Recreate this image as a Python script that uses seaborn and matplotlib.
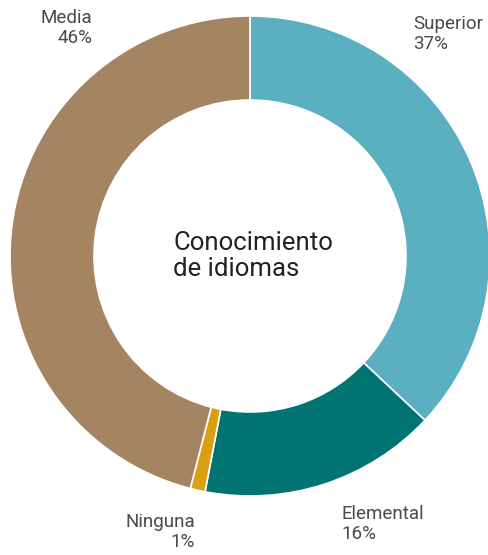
import matplotlib
matplotlib.use("Agg")
import matplotlib.pyplot as plt
import seaborn as sns

# Datos: conocimiento de idiomas (%)
categorias = ["Superior", "Elemental", "Ninguna", "Media"]
valores = [37, 16, 1, 46]
colores = ["#5aafc0", "#007473", "#d9a011", "#a58461"]

sns.set_theme(style="white")
plt.rcParams['font.family'] = ['Roboto', 'DejaVu Sans']

fig = plt.figure(figsize=(4.88, 5.55), dpi=100)
ax = fig.add_axes([10 / 488, 59 / 555, 480 / 488, 480 / 555])

ax.pie(valores, colors=colores, startangle=90, counterclock=False, radius=1,
       wedgeprops=dict(width=0.35, edgecolor="white", linewidth=1.2))
ax.set_xlim(-1, 1)
ax.set_ylim(-1, 1)
ax.set_aspect("equal")
ax.axis("off")

# etiquetas exteriores
pos = {
    "Superior": (0.679, 0.925, "left"),
    "Elemental": (0.383, -1.117, "left"),
    "Ninguna": (-0.229, -1.15, "right"),
    "Media": (-0.658, 0.95, "right"),
}
for cat, val in zip(categorias, valores):
    x, y, ha = pos[cat]
    ax.text(x, y, f"{cat}\n{val}%", ha=ha, va="center", fontsize=13.5,
            color="#4a4a4a", linespacing=1.1, clip_on=False)

ax.text(-0.32, 0.0, "Conocimiento\nde idiomas", ha="left", va="center",
        fontsize=18.5, color="#222222", linespacing=1.15)

fig.savefig("out.png", dpi=100)
